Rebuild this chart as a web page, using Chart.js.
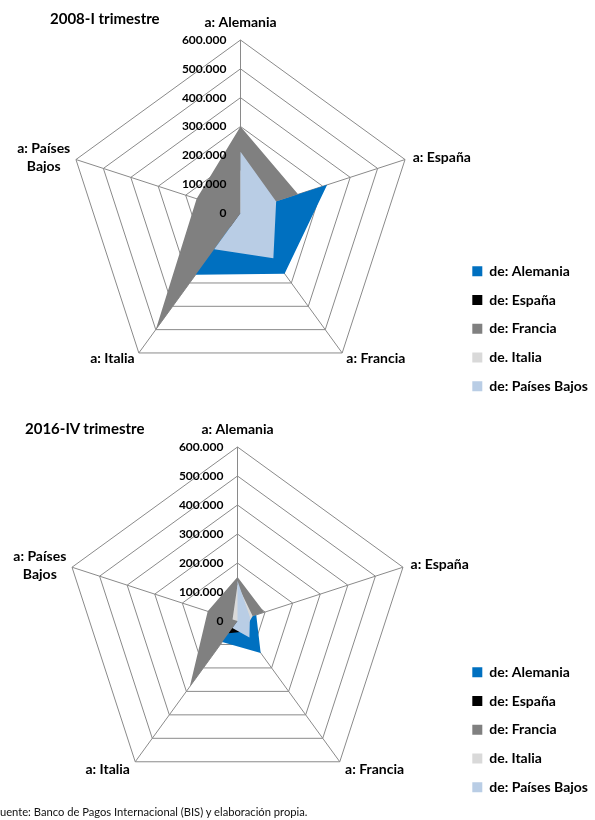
<!DOCTYPE html>
<html><head><meta charset="utf-8">
<script src="https://cdn.jsdelivr.net/npm/chart.js@4.4.1/dist/chart.umd.min.js"></script>
<style>
html,body{margin:0;padding:0;background:#fff;width:595px;height:820px;overflow:hidden;position:relative;font-family:Lato,sans-serif;}
canvas{position:absolute;left:0;}
.title{position:absolute;font:bold 15px Lato;color:#000;white-space:nowrap;line-height:18px;z-index:2;}
.note{position:absolute;font:11.2px Lato;color:#111;white-space:nowrap;line-height:12px;z-index:2;}
</style></head><body>
<canvas id="c1" width="595" height="412" style="top:0"></canvas>
<canvas id="c2" width="595" height="412" style="top:404px"></canvas>
<div class="title" style="left:50px;top:9px">2008-I trimestre</div>
<div class="title" style="left:25px;top:419px">2016-IV trimestre</div>
<div class="note" style="left:-6px;top:806px">Fuente: Banco de Pagos Internacional (BIS) y elaboración propia.</div>
<script>
// ---- data ----
const categories = [['a: Alemania'], ['a: España'], ['a: Francia'], ['a: Italia'], ['a: Países', 'Bajos']];
const seriesNames = ['de: Alemania', 'de: España', 'de: Francia', 'de. Italia', 'de: Países Bajos'];
const tickValues = [0, 100000, 200000, 300000, 400000, 500000, 600000];

// 2008-I trimestre (a: Alemania, a: España, a: Francia, a: Italia, a: Países Bajos)
const y2008_deAlemania    = [0, 316000, 260000, 265000, 90000];
const y2008_deEspana      = [60000, 0, 80000, 60000, 40000];
const y2008_deFrancia     = [300000, 210000, 0, 500000, 160000];
const y2008_deItalia      = [150000, 40000, 100000, 0, 0];
const y2008_dePaisesBajos = [212000, 130000, 194000, 155000, 0];

// 2016-IV trimestre
const y2016_deAlemania    = [0, 68000, 136000, 90000, 30000];
const y2016_deEspana      = [20000, 0, 45000, 52000, 20000];
const y2016_deFrancia     = [152000, 97000, 0, 280000, 108000];
const y2016_deItalia      = [125000, 55000, 40000, 0, 18000];
const y2016_dePaisesBajos = [139000, 45000, 70000, 30000, 0];

const colors = ['#0070C0', '#000000', '#808080', '#D9D9D9', '#B9CDE5'];

function fmt(v) {
  return String(v).replace(/\B(?=(\d{3})+(?!\d))/g, '.');
}

const excelLabels = {
  id: 'excelLabels',
  afterDraw(chart, args, o) {
    const s = chart.scales.r, ctx = chart.ctx;
    ctx.save();
    ctx.fillStyle = '#000';
    ctx.font = 'bold 12px Lato';
    ctx.textAlign = 'right';
    ctx.textBaseline = 'middle';
    tickValues.forEach(v => {
      const p = s.getPointPositionForValue(0, v);
      ctx.fillText(fmt(v), p.x - o.tickGap, p.y);
    });
    ctx.font = 'bold 14px Lato';
    const R = s.drawingArea;
    categories.forEach((lines, i) => {
      const p = s.getPointPosition(i, R + o.labelDist[i]);
      const lh = 18;
      const n = lines.length;
      if (n === 1) {
        ctx.textAlign = o.labelAlign[i];
        ctx.fillText(lines[0], p.x, p.y);
      } else {
        const w = Math.max(...lines.map(l => ctx.measureText(l).width));
        ctx.textAlign = 'center';
        lines.forEach((l, k) => {
          ctx.fillText(l, p.x - w / 2, p.y + (k - (n - 1) / 2) * lh);
        });
      }
    });
    ctx.restore();
  }
};

function makeChart(id, series, geo) {
  return new Chart(document.getElementById(id), {
    type: 'radar',
    data: {
      labels: categories,
      datasets: seriesNames.map((n, i) => ({
        label: n,
        data: series[i],
        backgroundColor: colors[i],
        borderColor: 'rgba(0,0,0,0)',
        borderWidth: 0,
        pointRadius: 0,
        pointHoverRadius: 0,
        fill: true,
        order: seriesNames.length - i,
        clip: false
      }))
    },
    options: {
      responsive: false,
      animation: false,
      devicePixelRatio: 1,
      layout: { padding: { top: 20, bottom: geo.padBottom, left: 0, right: geo.padRight } },
      plugins: {
        legend: {
          position: 'right',
          align: 'end',
          labels: {
            boxWidth: 10, boxHeight: 10, padding: 14.75, color: '#000',
            font: { family: 'Lato', size: 14, weight: 'bold' },
            sort: (a, b) => a.datasetIndex - b.datasetIndex
          }
        },
        tooltip: { enabled: false },
        excelLabels: geo
      },
      scales: {
        r: {
          min: 0, max: 600000,
          ticks: { display: false, stepSize: 100000 },
          grid: { color: '#8a8a8a', lineWidth: 1, circular: false },
          angleLines: { color: '#8a8a8a', lineWidth: 1 },
          pointLabels: { display: false },
          afterFit(s) { s.xCenter = geo.cx; s.yCenter = geo.cy; s.drawingArea = geo.R; }
        }
      }
    },
    plugins: [excelLabels]
  });
}

makeChart('c1',
  [y2008_deAlemania, y2008_deEspana, y2008_deFrancia, y2008_deItalia, y2008_dePaisesBajos],
  { cx: 240.5, cy: 213, R: 173, padBottom: 4, padRight: -3, tickGap: 14,
    labelDist: [18, 8, 7, 7, 6], labelAlign: ['center', 'left', 'left', 'right', 'right'] });

makeChart('c2',
  [y2016_deAlemania, y2016_deEspana, y2016_deFrancia, y2016_deItalia, y2016_dePaisesBajos],
  { cx: 237.5, cy: 217, R: 174, padBottom: 7, padRight: -3, tickGap: 14,
    labelDist: [18, 8, 9, 9, 6], labelAlign: ['center', 'left', 'left', 'right', 'right'] });
</script>
</body></html>
